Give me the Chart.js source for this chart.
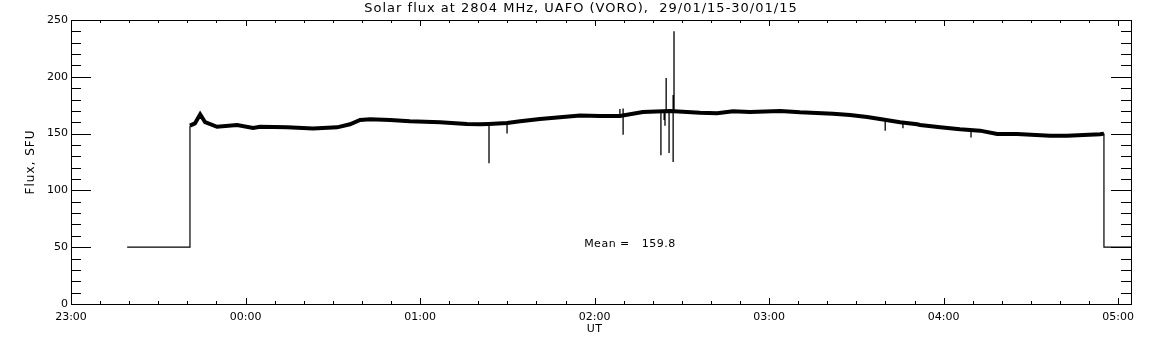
<!DOCTYPE html>
<html>
<head>
<meta charset="utf-8">
<script src="https://cdn.jsdelivr.net/npm/chart.js@4.4.0/dist/chart.umd.min.js"></script>
<style>
  html, body { margin: 0; padding: 0; background: #fff; }
</style>
</head>
<body>
<canvas id="grafico" width="1152" height="345"></canvas>
<script>
// minutos desde las 23:00 UT
const tiempos = [40.9, 42.6, 44.4, 46.1, 50.2, 57.1, 62.6, 65.0, 74.3, 83.2, 91.5, 95.9, 99.4, 102.8,
  109.7, 116.5, 126.9, 136.1, 140.6, 143.7, 149.9, 154.4, 161.2, 168.1, 175.0, 181.9, 188.7, 196.6,
  205.9, 216.2, 222.1, 227.6, 233.4, 243.8, 250.6, 262.0, 267.8, 273.7, 278.1, 285.0, 290.9, 291.9,
  298.8, 305.6, 312.5, 318.4, 325.2, 336.6, 342.4, 353.8, 355.1];
const flujo = [157, 159, 167, 160, 156, 157.5, 155, 156, 155.5, 154.4, 155.5, 158.2, 162, 162.6,
  162, 160.8, 160, 158.5, 158.2, 158.5, 159.3, 160.8, 162.9, 164.3, 166, 165.5, 165.5, 169,
  170, 168.4, 168, 169.6, 169, 169.9, 168.7, 167.5, 166.4, 164.6, 162.9, 160, 158.2, 157.6,
  155.5, 153.8, 152.6, 149.6, 149.6, 148.2, 148.2, 149.4, 150];

// tramos en 50 SFU antes y despues de la observacion
const inicioTiempos = [19.3, 40.9, 40.9];
const inicioFlujo = [50, 50, 157];
const finTiempos = [355.1, 355.1, 364.4];
const finFlujo = [150, 50, 50];

// picos (interferencias)
const picosTiempos = [143.7, 149.9, 188.7, 189.8, 189.8, 202.8, 203.9, 204.2, 204.6, 205.6, 207.0, 207.0, 207.3, 279.9, 286.0, 309.4];
const picosBase = [158.5, 159.3, 165.5, 165.5, 165.5, 169.5, 169.5, 169.5, 169.5, 169.5, 169.5, 169.5, 169.5, 163, 160, 152.6];
const picosValor = [124, 150, 171.6, 172, 149, 131, 162, 157, 199, 133, 125, 184, 240, 152.6, 154.6, 146.5];

const xTicks = [0, 60, 120, 180, 240, 300, 360];
const xEtiquetas = ["23:00", "00:00", "01:00", "02:00", "03:00", "04:00", "05:00"];
const yTicks = [0, 50, 100, 150, 200, 250];

const titulo = "Solar flux at 2804 MHz, UAFO (VORO),  29/01/15-30/01/15";
const media = "Mean =   159.8";

const fuente = "DejaVu Sans";

function puntos(xs, ys) {
  return xs.map((x, i) => ({ x: x, y: ys[i] }));
}

const datosPicos = [];
picosTiempos.forEach((t, i) => {
  datosPicos.push({ x: t, y: picosBase[i] });
  datosPicos.push({ x: t, y: picosValor[i] });
  datosPicos.push({ x: t, y: null });
});

const marco = {
  id: "marco",
  afterDatasetsDraw(chart) {
    const ctx = chart.ctx;
    const a = chart.chartArea;
    const xs = chart.scales.x;
    const ys = chart.scales.y;
    ctx.save();
    ctx.strokeStyle = "#000";
    ctx.lineWidth = 1;
    ctx.strokeRect(a.left + 0.5, a.top + 0.5, a.right - a.left, a.bottom - a.top);

    ctx.beginPath();
    for (let m = 0; m <= xs.max; m += 10) {
      const px = Math.round(xs.getPixelForValue(m)) + 0.5;
      const largo = m % 60 === 0 ? 6 : 3;
      ctx.moveTo(px, a.bottom);
      ctx.lineTo(px, a.bottom - largo);
      ctx.moveTo(px, a.top);
      ctx.lineTo(px, a.top + largo);
    }
    for (let v = 0; v <= 250; v += 10) {
      const py = Math.round(ys.getPixelForValue(v)) + 0.5;
      const largo = v % 50 === 0 ? 20 : 10;
      ctx.moveTo(a.left, py);
      ctx.lineTo(a.left + largo, py);
      ctx.moveTo(a.right, py);
      ctx.lineTo(a.right - largo, py);
    }
    ctx.stroke();

    ctx.fillStyle = "#000";
    ctx.font = "13px '" + fuente + "'";
    ctx.letterSpacing = "1px";
    ctx.textAlign = "center";
    ctx.textBaseline = "middle";
    ctx.fillText(titulo, 581, 9);

    ctx.font = "11px '" + fuente + "'";
    ctx.letterSpacing = "0.5px";
    ctx.fillText("UT", xs.getPixelForValue(180), 329);

    ctx.textAlign = "left";
    ctx.fillText(media, xs.getPixelForValue(176.4), ys.getPixelForValue(52.8));

    ctx.font = "12px '" + fuente + "'";
    ctx.letterSpacing = "1px";
    ctx.translate(31, (a.top + a.bottom) / 2);
    ctx.rotate(-Math.PI / 2);
    ctx.textAlign = "center";
    ctx.fillText("Flux, SFU", 0, 0);
    ctx.restore();
  }
};

new Chart(document.querySelector("#grafico"), {
  type: "line",
  data: {
    datasets: [
      {
        data: puntos(tiempos, flujo),
        borderColor: "#000",
        borderWidth: 4,
        pointRadius: 0,
        tension: 0
      },
      {
        data: puntos(inicioTiempos, inicioFlujo),
        borderColor: "#000",
        borderWidth: 1.2,
        pointRadius: 0
      },
      {
        data: puntos(finTiempos, finFlujo),
        borderColor: "#000",
        borderWidth: 1.2,
        pointRadius: 0
      },
      {
        data: datosPicos,
        borderColor: "#000",
        borderWidth: 1.3,
        pointRadius: 0,
        spanGaps: false
      }
    ]
  },
  options: {
    responsive: false,
    animation: false,
    devicePixelRatio: 1,
    layout: { padding: { top: 20, right: 21, left: 0, bottom: 0 } },
    plugins: {
      legend: { display: false },
      title: { display: false },
      tooltip: { enabled: false }
    },
    scales: {
      x: {
        type: "linear",
        min: 0,
        max: 364.4,
        grid: { display: false, tickLength: 0 },
        border: { display: false },
        afterBuildTicks: (scale) => {
          scale.ticks = xTicks.map((v) => ({ value: v }));
        },
        afterFit: (scale) => { scale.height = 41; },
        ticks: {
          autoSkip: false,
          maxRotation: 0,
          padding: 7,
          color: "#000",
          font: { family: fuente, size: 11 },
          callback: (v) => xEtiquetas[xTicks.indexOf(v)]
        }
      },
      y: {
        min: 0,
        max: 250,
        grid: { display: false, tickLength: 0 },
        border: { display: false },
        afterBuildTicks: (scale) => {
          scale.ticks = yTicks.map((v) => ({ value: v }));
        },
        afterFit: (scale) => { scale.width = 71; },
        ticks: {
          padding: 3,
          color: "#000",
          font: { family: fuente, size: 11 }
        }
      }
    }
  },
  plugins: [marco]
});
</script>
</body>
</html>
